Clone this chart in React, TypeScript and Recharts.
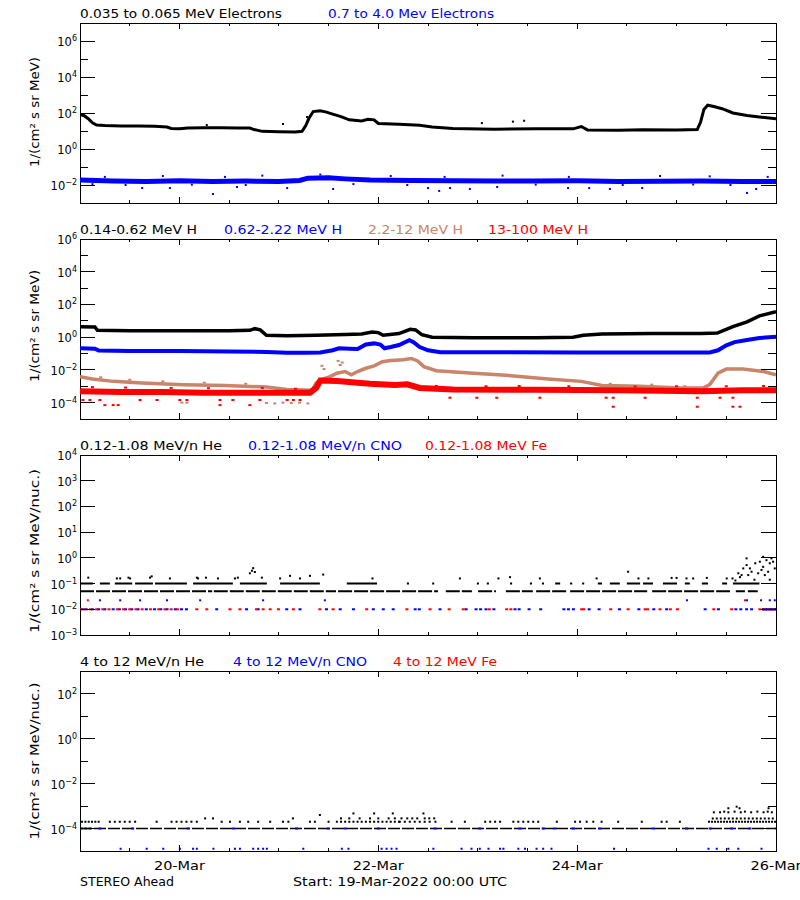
import React from "react"
import { ComposedChart, Line, Scatter, XAxis, YAxis, ReferenceArea } from "recharts"

const BLUE = "#0000ff"
const RED = "#ff0000"
const BROWN = "#c98469"
const FONT = "DejaVu Sans, sans-serif"

// x axis: hours since 19-Mar-2022 00:00 UTC
const xTickHours = [0, 12, 24, 36, 48, 60, 72, 84, 96, 108, 120, 132, 144, 156, 168]
const xTickLabels = ["", "", "20-Mar", "", "", "", "22-Mar", "", "", "", "24-Mar", "", "", "", "26-Mar"]

// all series: [hour, log10(flux)]

// panel 1 - electrons
const eLow = [
  [0, 1.92], [1, 1.85], [2, 1.68], [3, 1.45], [4, 1.33], [6, 1.3], [10, 1.28], [14, 1.28], [18, 1.26],
  [21, 1.22], [22, 1.14], [24, 1.12], [26, 1.16], [30, 1.18], [34, 1.18], [38, 1.16], [41, 1.16], [42, 1.08],
  [44, 0.98], [48, 0.96], [52, 0.94], [53.6, 0.98], [54.5, 1.3], [55.3, 1.72], [56.3, 2.08], [58, 2.12],
  [59.5, 2.05], [61, 1.94], [63, 1.8], [65, 1.62], [68, 1.56], [69.5, 1.65], [71, 1.62], [72, 1.42], [77, 1.38],
  [82, 1.32], [85, 1.22], [90, 1.14], [100, 1.1], [110, 1.12], [119, 1.12], [121, 1.25], [122.5, 1.06],
  [130, 1.04], [136, 1.07], [144, 1.06], [149, 1.08], [149.8, 1.5], [150.6, 2.2], [151.5, 2.43], [153, 2.36],
  [155, 2.24], [157.6, 2.0], [161, 1.86], [164, 1.78], [168, 1.68],
]
const eLowOut = [[30.6, 1.33], [49, 1.39], [97, 1.44], [104.5, 1.52], [107.2, 1.57], [55.0, 1.62], [54.8, 1.78]]
const eHigh = [
  [0, -1.72], [8, -1.78], [16, -1.8], [24, -1.77], [32, -1.8], [40, -1.78], [48, -1.8], [53, -1.75], [55, -1.62],
  [60, -1.6], [64, -1.66], [70, -1.72], [80, -1.75], [90, -1.76], [100, -1.78], [110, -1.78], [120, -1.77],
  [130, -1.8], [140, -1.79], [150, -1.78], [160, -1.8], [168, -1.8],
]
const eHighOut = [
  [15, -2.17], [21.7, -2.17], [32.1, -2.5], [37.9, -2.11], [50, -2.17], [61.1, -2.22], [84, -2.17], [86.7, -2.33],
  [89.3, -2.17], [94.1, -2.22], [100.7, -2.11], [117.8, -2.17], [122.9, -2.17], [127.9, -2.22], [135.7, -2.17],
  [161, -2.44], [163.2, -2.22], [20, -1.5], [44, -1.48], [58, -1.42], [75, -1.5], [102, -1.48], [140, -1.5],
  [3, -1.95], [11, -2.0], [27, -1.98], [40, -2.0], [66, -1.95], [79, -2.0], [110, -1.98], [131, -2.0],
  [148, -1.97], [157, -2.0], [6, -1.55], [35, -1.55], [88, -1.55], [118, -1.55], [152, -1.52], [166, -1.55],
]

// panel 2 - protons
const h1 = [
  [0, 0.64], [3.6, 0.62], [4.2, 0.42], [12, 0.4], [24, 0.4], [36, 0.4], [41, 0.42], [42.2, 0.52], [43.5, 0.45],
  [45, 0.12], [50, 0.09], [57, 0.12], [64, 0.17], [68, 0.2], [70.5, 0.32], [72, 0.28], [73.2, 0.12], [77, 0.22],
  [79.7, 0.48], [81, 0.44], [82.5, 0.15], [85, 0.0], [95, -0.03], [110, -0.03], [119, 0.0], [121.5, 0.12],
  [126, 0.2], [138, 0.22], [150, 0.22], [153.8, 0.25], [155.7, 0.45], [157.6, 0.64], [161, 0.94], [164, 1.3],
  [168, 1.55],
]
const h2 = [
  [0, -0.68], [3.6, -0.7], [4.5, -0.82], [12, -0.85], [24, -0.85], [36, -0.87], [45, -0.9], [50, -0.95],
  [55, -0.95], [58, -0.93], [61, -0.8], [62.5, -0.68], [65, -0.7], [67, -0.72], [69, -0.45], [71, -0.38],
  [72.5, -0.45], [73.5, -0.68], [75, -0.6], [77, -0.48], [79.5, -0.18], [80.5, -0.3], [82, -0.6], [84, -0.8],
  [87, -0.92], [100, -0.92], [120, -0.93], [140, -0.93], [152, -0.93], [154, -0.8], [156, -0.5], [158, -0.3],
  [161, -0.17], [164, -0.05], [168, 0.02],
]
const h3 = [
  [0, -2.42], [3, -2.55], [8, -2.7], [15, -2.8], [25, -2.9], [35, -2.95], [45, -3.05], [50, -3.2], [56, -3.25],
  [57, -2.8], [58, -2.6], [60, -2.45], [62, -2.2], [64, -2.1], [65.5, -2.3], [67, -2.1], [69, -1.9], [71, -1.75],
  [73, -1.5], [75, -1.42], [78, -1.38], [80, -1.3], [81.5, -1.45], [83, -1.8], [86, -2.05], [95, -2.2],
  [104, -2.35], [113, -2.55], [121, -2.7], [126, -2.95], [135, -3.0], [145, -3.1], [150.5, -3.1], [152, -2.9],
  [154, -2.2], [156, -1.95], [160, -1.95], [165, -2.1], [168, -2.3],
]
const h3Out = [
  [58.4, -1.75], [58.9, -1.95], [62.3, -1.45], [62.8, -1.7], [63.3, -1.55], [24.6, -4.0], [25.8, -4.0],
  [45, -4.02], [47, -4.05], [49, -4.0], [51, -4.02], [53, -4.0], [55, -4.05], [5, -2.45], [12, -2.6],
  [20, -2.7], [30, -2.78], [40, -2.85], [128, -2.85], [138, -2.9], [146, -3.0],
]
const h4 = [
  [0, -3.3], [10, -3.35], [20, -3.35], [30, -3.4], [40, -3.4], [50, -3.4], [55.5, -3.4], [57, -3.1], [58, -2.65],
  [62, -2.68], [70, -2.85], [76, -2.92], [79, -2.88], [82, -3.1], [90, -3.2], [110, -3.22], [130, -3.25],
  [150, -3.3], [160, -3.25], [168, -3.25],
]
const h4Out = [
  [0.7, -3.84], [2.4, -3.84], [4.8, -3.84], [14.5, -3.84], [18.6, -3.84], [24.1, -3.84], [25.8, -3.84],
  [33.8, -3.84], [36.9, -3.84], [43.4, -3.84], [50, -3.84], [51.5, -3.84], [53.1, -3.84], [6, -4.15], [8, -4.15],
  [9.2, -4.15], [33.8, -4.15], [41, -4.15], [89.3, -3.7], [95.8, -3.7], [100.6, -3.7], [111, -3.7], [127, -3.7],
  [128.7, -3.7], [136.4, -3.7], [149, -3.7], [154.5, -3.7], [157.6, -3.7], [128.7, -4.25], [149, -4.25],
  [157.6, -4.25], [159.3, -4.25], [3, -3.05], [11, -3.08], [22, -3.1], [31, -3.12], [44, -3.1], [52, -3.15],
  [86, -2.98], [98, -3.0], [106, -2.98], [118, -3.0], [134, -3.02], [144, -3.0], [156, -3.0], [165, -2.98],
]

// panel 3 - 0.12-1.08 MeV/n ions (count-quantised levels)
const he05Spans = [
  [0, 31.9], [32.3, 61.8], [62.3, 86.4], [88.3, 94.6], [96.1, 100.4], [102.8, 109.3], [110.1, 117.8],
  [118.3, 136.9], [138.1, 156.9], [158.3, 160.5], [161.2, 163.6],
]
const he10Spans = [
  [0, 3.1], [4.8, 7.2], [8.4, 12.6], [13.3, 17.6], [18.1, 25.8], [27.3, 36.9], [38.6, 45.1], [48.3, 57.9],
  [64.4, 71.7], [78.9, 79.4], [85, 85.5], [95.8, 96.3], [98.2, 98.7], [103.8, 104.3], [108.6, 109.1],
  [111.5, 112], [114.7, 115.9], [118.3, 118.8], [121.2, 121.7], [125, 126], [127.9, 130.3], [132, 135.2],
  [135.9, 138.3], [140.7, 144.1], [146, 147.2], [150.1, 151.6], [155, 156.2], [157.6, 164],
]
const heHigh = [
  [2, -0.77], [8.9, -0.8], [9.7, -0.8], [11.7, -0.77], [12.1, -0.8], [16.9, -0.77], [17.3, -0.72], [21.7, -0.8],
  [28.2, -0.77], [28.5, -0.8], [30.4, -0.77], [33.3, -0.8], [37.4, -0.8], [38.1, -0.77], [41, -0.6], [41.5, -0.5],
  [41.8, -0.4], [42.2, -0.55], [43.9, -0.77], [48.3, -0.8], [50.7, -0.7], [53.1, -0.8], [55.5, -0.7],
  [58.7, -0.65], [70.6, -0.8], [91.7, -0.8], [101, -0.8], [103.8, -0.75], [111, -0.8], [124.7, -0.8],
  [132.3, -0.54], [134.8, -0.8], [137.2, -0.8], [142.8, -0.78], [144, -0.78], [146.4, -0.8], [148, -0.8],
  [151.3, -0.78], [156.1, -0.8], [159.3, -0.75], [160.9, -0.28], [161.7, -0.41], [163, -0.21], [164.1, -0.15],
  [164.9, -0.35], [165.7, -0.09], [166.5, -0.21], [167.3, -0.15], [159.7, -0.67], [161.3, -0.67], [163.7, -0.6],
  [166.1, -0.54], [158.9, -0.6], [162.1, -0.54], [164.5, -0.47], [167.7, -0.41], [160.1, -0.41], [165.3, -0.67],
  [160.9, -0.02], [164.9, 0.04], [166.9, -0.02], [157.5, -0.8], [158.2, -0.88], [162.8, -0.85], [166.5, -0.85],
]
const he01Spans = [[164.6, 168]]
const cnoAt01 = [
  0.5, 1.5, 3, 4.5, 6, 8, 9.5, 11, 12.5, 14, 16, 18, 19.5, 21, 23, 24.5, 25.7, 33, 40.2, 43, 49.9, 53.1, 59.5,
  62.8, 66, 70.8, 73.2, 75.6, 80.9, 81.9, 86.9, 93.2, 95.6, 96.7, 98, 99.9, 105, 106, 108.4, 111.2, 116.8, 117.9,
  119.1, 122.9, 125.3, 130.2, 134.9, 138.5, 141.6, 150.9, 154.1, 158.3, 159.5, 160.9, 162.1, 165, 165.5, 166,
  166.5, 167, 167.5, 168,
]
const feAt01 = [
  0, 1, 2.5, 4, 5.5, 7, 9, 10.5, 12, 13.5, 15, 17, 19, 20.5, 22, 23.5, 28.2, 30.6, 36.2, 38.6, 42.6, 44.2, 45.9,
  47.9, 51.5, 57.9, 61.1, 69.2, 78.9, 84.5, 89.1, 92.5, 98.8, 103, 104, 121.1, 121.6, 128.1, 132.3, 136.4, 137,
  140, 142.5, 144.2, 153, 157.3, 164.1, 165.2, 166.2, 167.2,
]
const cnoAt02 = [4.8, 9.7, 14.5, 21, 29, 44.2, 59.1, 146.5, 161, 164.4, 166.5, 167.7]
const feAt02 = [1.9, 160.5]

// panel 4 - 4 to 12 MeV/n ions
const he4Row = [[0, 168]]
const he4LowSpans = [[151.6, 168]]
const he4MidSpans = [[152.5, 167.5]]
const he4Low = [
  0.5, 1.3, 2.1, 2.9, 3.7, 4.5, 7.2, 8.4, 9.6, 10.8, 12, 13.3, 18.5, 22.1, 23.3, 24.5, 25.7, 26.9, 28.2, 34.2,
  36.2, 38.6, 40.6, 43, 45.9, 49, 50.3, 55.5, 56.7, 60, 62, 63, 64, 65, 66, 67, 68, 69, 70, 71, 72, 73, 74, 75, 76,
  77, 77.2, 78.4, 79.6, 80.8, 82, 83.2, 84.4, 85.8, 89.7, 92.9, 97.8, 99, 100.2, 101.4, 104.6, 105.8, 107, 108.2,
  109.4, 110.6, 115.1, 119.5, 120.7, 122.3, 123.9, 125.9, 129.9, 135.6, 140.4, 141.6, 144.8,
]
const he4Mid = [30.2, 32.1, 51.4, 63, 65, 67.5, 70, 72, 74.5, 76, 77.6, 79, 80.2, 81.4, 83.2, 84.3, 85.5]
const he4High = [
  [57.9, -3.4], [66, -3.33], [71, -3.33], [75.5, -3.33], [82.9, -3.33], [153, -3.28], [154.5, -3.28],
  [155.5, -3.25], [156.5, -3.28], [158, -3.25], [159.5, -3.28], [160.5, -3.25], [162, -3.28], [163.5, -3.25],
  [165, -3.28], [166, -3.25], [167, -3.28], [156.5, -3.1], [158.5, -3.03], [159.2, -3.1], [166.2, -3.1],
]
const cno4Low = [
  9.8, 16.1, 20.1, 24.1, 27.3, 28.2, 32.2, 37.4, 38.6, 41.8, 43, 44.2, 45.1, 53.9, 63.2, 64.8, 72.8, 74, 75.2,
  76.4, 85.3, 92.1, 94.5, 96.5, 98.6, 101.4, 102.2, 105.8, 107.4, 110.2, 111.8, 113.8, 128.9, 151.7, 153.7,
  156.5, 158.9, 164.5,
]
const cno4Row = [
  0.4, 1.4, 2.4, 4.8, 12.7, 26.1, 37, 52.3, 59.9, 64, 72, 85.7, 96.5, 106.2, 111.8, 114.6, 119.1, 125.5, 138.4,
  146.4, 152.1, 157.3, 161.7,
]
const fe4Row = [168]

// y ticks (exponents) per panel
const p1Ticks = [6, 5, 4, 3, 2, 1, 0, -1, -2]
const p1Labels = [6, 4, 2, 0, -2]
const p2Ticks = [6, 5, 4, 3, 2, 1, 0, -1, -2, -3, -4]
const p2Labels = [6, 4, 2, 0, -2, -4]
const p3Ticks = [4, 3, 2, 1, 0, -1, -2, -3]
const p3Labels = [4, 3, 2, 1, 0, -1, -2, -3]
const p4Ticks = [2, 1, 0, -1, -2, -3, -4]
const p4Labels = [2, 0, -2, -4]

const pts = (rows: number[][]) => rows.map(([h, lg]) => ({ h, v: Math.pow(10, lg) }))
const level = (hours: number[], lg: number) => hours.map((h) => ({ h, v: Math.pow(10, lg) }))
const spans = (rows: number[][], lg: number) =>
  rows.flatMap(([a, b]) => [
    { h: a, v: Math.pow(10, lg) },
    { h: b, v: Math.pow(10, lg) },
    { h: b + 0.01, v: null },
  ])

const PLOT_TOP = 20
const PLOT_BOTTOM = 200
const PLOT_L = 80
const PLOT_R = 776

const sq = (color: string, w: number, h: number) => (p: any) =>
  p.cx == null ? <g /> : <rect x={p.cx - w / 2} y={p.cy - h / 2} width={w} height={h} fill={color} />

const xTick = (showLabels: boolean) => (p: any) => {
  const i = xTickHours.indexOf(p.payload.value)
  const label = xTickLabels[i] || ""
  const len = label ? 6 : 3
  return (
    <g>
      <line x1={p.x} x2={p.x} y1={PLOT_BOTTOM} y2={PLOT_BOTTOM - len} stroke="#000" shapeRendering="crispEdges" />
      <line x1={p.x} x2={p.x} y1={PLOT_TOP} y2={PLOT_TOP + len} stroke="#000" shapeRendering="crispEdges" />
      {showLabels && label ? (
        <text x={p.x} y={PLOT_BOTTOM + 19} textAnchor="middle" fontSize={12} fontFamily={FONT}
          textLength={51} lengthAdjust="spacingAndGlyphs">{label}</text>
      ) : null}
    </g>
  )
}

const yTick = (labelled: number[]) => (p: any) => {
  const e = Math.round(Math.log10(p.payload.value))
  const lab = labelled.includes(e)
  const len = lab ? 15 : 8
  return (
    <g>
      <line x1={PLOT_L} x2={PLOT_L + len} y1={p.y} y2={p.y} stroke="#000" shapeRendering="crispEdges" />
      <line x1={PLOT_R} x2={PLOT_R - len} y1={p.y} y2={p.y} stroke="#000" shapeRendering="crispEdges" />
      {lab ? (
        <text x={77} y={p.y + 5} textAnchor="end" fontSize={11.5} fontFamily={FONT}>
          10<tspan dy={-5} fontSize={8}>{e < 0 ? "\u2212" + -e : String(e)}</tspan>
        </text>
      ) : null}
    </g>
  )
}

function Panel(props: any) {
  const { top, height, yMin, yMax, tickExp, labelExp, yLabel, yLabelMid, yLabelLen, showDates, children } = props
  return (
    <div style={{ position: "absolute", left: 0, top, width: 800, height }}>
      <ComposedChart width={800} height={height} margin={{ top: PLOT_TOP, right: 800 - PLOT_R, bottom: 0, left: 0 }}>
        <XAxis type="number" dataKey="h" domain={[0, 168]} ticks={xTickHours} interval={0} allowDataOverflow
          axisLine={false} tickLine={false} height={height - PLOT_BOTTOM} tick={xTick(showDates)} />
        <YAxis type="number" dataKey="v" scale="log" domain={[yMin, yMax]} ticks={tickExp.map((e: number) => Math.pow(10, e))}
          interval={0} allowDataOverflow width={PLOT_L} axisLine={false} tickLine={false} tick={yTick(labelExp)}
          label={() => (
            <text x={39} y={yLabelMid} transform={`rotate(-90 39 ${yLabelMid})`} textAnchor="middle" fontSize={12}
              fontFamily={FONT} textLength={yLabelLen} lengthAdjust="spacingAndGlyphs">{yLabel}</text>
          )} />
        {children}
        <ReferenceArea x1={0} x2={168} y1={yMin} y2={yMax} fill="none" fillOpacity={0} stroke="#000" strokeWidth={1}
          strokeOpacity={1} shapeRendering="crispEdges" ifOverflow="visible" />
      </ComposedChart>
    </div>
  )
}

const lineProps = { dataKey: "v", dot: false, activeDot: false, isAnimationActive: false, type: "linear" as const, connectNulls: false }

const titles = [
  { x: 80, y: 18, w: 202, c: "#000", t: "0.035 to 0.065 MeV Electrons" },
  { x: 328, y: 18, w: 166, c: BLUE, t: "0.7 to 4.0 Mev Electrons" },
  { x: 80, y: 234, w: 117, c: "#000", t: "0.14-0.62 MeV H" },
  { x: 224, y: 234, w: 118, c: BLUE, t: "0.62-2.22 MeV H" },
  { x: 368, y: 234, w: 95, c: BROWN, t: "2.2-12 MeV H" },
  { x: 488, y: 234, w: 100, c: RED, t: "13-100 MeV H" },
  { x: 80, y: 450, w: 142, c: "#000", t: "0.12-1.08 MeV/n He" },
  { x: 248, y: 450, w: 154, c: BLUE, t: "0.12-1.08 MeV/n CNO" },
  { x: 425, y: 450, w: 122, c: RED, t: "0.12-1.08 MeV Fe" },
  { x: 80, y: 666, w: 124, c: "#000", t: "4 to 12 MeV/n He" },
  { x: 233, y: 666, w: 134, c: BLUE, t: "4 to 12 MeV/n CNO" },
  { x: 393, y: 666, w: 104, c: RED, t: "4 to 12 MeV Fe" },
  { x: 80, y: 886, w: 94, c: "#000", t: "STEREO Ahead" },
  { x: 293, y: 886, w: 214, c: "#000", t: "Start: 19-Mar-2022 00:00 UTC" },
]

export default function App() {
  return (
    <div style={{ position: "absolute", left: 0, top: 0, width: 800, height: 900, background: "#fff" }}>
      <Panel top={3} height={215} yMin={1e-3} yMax={1e7} tickExp={p1Ticks} labelExp={p1Labels}
        yLabel="1/(cm² s sr MeV)" yLabelMid={109} yLabelLen={110} showDates={false}>
        <Line data={pts(eHigh)} {...lineProps} stroke={BLUE} strokeWidth={5} />
        <Scatter data={pts(eHighOut)} dataKey="v" isAnimationActive={false} shape={sq(BLUE, 2, 2)} />
        <Line data={pts(eLow)} {...lineProps} stroke="#000" strokeWidth={3} />
        <Scatter data={pts(eLowOut)} dataKey="v" isAnimationActive={false} shape={sq("#000", 2, 2)} />
      </Panel>

      <Panel top={219} height={215} yMin={1e-5} yMax={1e6} tickExp={p2Ticks} labelExp={p2Labels}
        yLabel="1/(cm² s sr MeV)" yLabelMid={107} yLabelLen={112} showDates={false}>
        <Line data={pts(h1)} {...lineProps} stroke="#000" strokeWidth={3.5} />
        <Line data={pts(h2)} {...lineProps} stroke={BLUE} strokeWidth={4} />
        <Line data={pts(h3)} {...lineProps} stroke={BROWN} strokeWidth={3.5} />
        <Scatter data={pts(h3Out)} dataKey="v" isAnimationActive={false} shape={sq(BROWN, 3, 2)} />
        <Line data={pts(h4)} {...lineProps} stroke={RED} strokeWidth={6} />
        <Scatter data={pts(h4Out)} dataKey="v" isAnimationActive={false} shape={sq(RED, 3, 2)} />
      </Panel>

      <Panel top={435} height={215} yMin={1e-3} yMax={1e4} tickExp={p3Ticks} labelExp={p3Labels}
        yLabel="1/(cm² s sr MeV/nuc.)" yLabelMid={116} yLabelLen={164} showDates={false}>
        <Line data={spans(he05Spans, -1.3)} {...lineProps} stroke="#000" strokeWidth={2} strokeDasharray="14 2" />
        <Line data={spans(he10Spans, -1.0)} {...lineProps} stroke="#000" strokeWidth={2} />
        <Line data={spans(he01Spans, -2.0)} {...lineProps} stroke="#000" strokeWidth={2} />
        <Scatter data={pts(heHigh)} dataKey="v" isAnimationActive={false} shape={sq("#000", 2, 2)} />
        <Scatter data={level(cnoAt01, -2.0)} dataKey="v" isAnimationActive={false} shape={sq(BLUE, 3, 2)} />
        <Scatter data={level(feAt01, -2.0)} dataKey="v" isAnimationActive={false} shape={sq(RED, 3, 2)} />
        <Scatter data={level(cnoAt02, -1.65)} dataKey="v" isAnimationActive={false} shape={sq(BLUE, 2, 2)} />
        <Scatter data={level(feAt02, -1.65)} dataKey="v" isAnimationActive={false} shape={sq(RED, 2, 2)} />
      </Panel>

      <Panel top={651} height={230} yMin={1e-5} yMax={1e3} tickExp={p4Ticks} labelExp={p4Labels}
        yLabel="1/(cm² s sr MeV/nuc.)" yLabelMid={110} yLabelLen={157} showDates={true}>
        <Line data={spans(he4Row, -4.0)} {...lineProps} stroke="#000" strokeWidth={1.5} strokeDasharray="12 2" />
        <Line data={spans(he4LowSpans, -3.7)} {...lineProps} stroke="#000" strokeWidth={2} strokeDasharray="2 1" />
        <Line data={spans(he4MidSpans, -3.55)} {...lineProps} stroke="#000" strokeWidth={2} strokeDasharray="2 2" />
        <Scatter data={level(he4Low, -3.7)} dataKey="v" isAnimationActive={false} shape={sq("#000", 2, 2)} />
        <Scatter data={level(he4Mid, -3.55)} dataKey="v" isAnimationActive={false} shape={sq("#000", 2, 2)} />
        <Scatter data={pts(he4High)} dataKey="v" isAnimationActive={false} shape={sq("#000", 2, 2)} />
        <Scatter data={level(cno4Row, -4.0)} dataKey="v" isAnimationActive={false} shape={sq(BLUE, 3, 2)} />
        <Scatter data={level(cno4Low, -4.9)} dataKey="v" isAnimationActive={false} shape={sq(BLUE, 2, 2)} />
        <Scatter data={level(fe4Row, -4.0)} dataKey="v" isAnimationActive={false} shape={sq(RED, 2, 2)} />
      </Panel>

      <svg width={800} height={900} style={{ position: "absolute", left: 0, top: 0, pointerEvents: "none" }}>
        {titles.map((t) => (
          <text key={t.t} x={t.x} y={t.y} fill={t.c} fontSize={12} fontFamily={FONT} textLength={t.w}
            lengthAdjust="spacingAndGlyphs">{t.t}</text>
        ))}
      </svg>
    </div>
  )
}
